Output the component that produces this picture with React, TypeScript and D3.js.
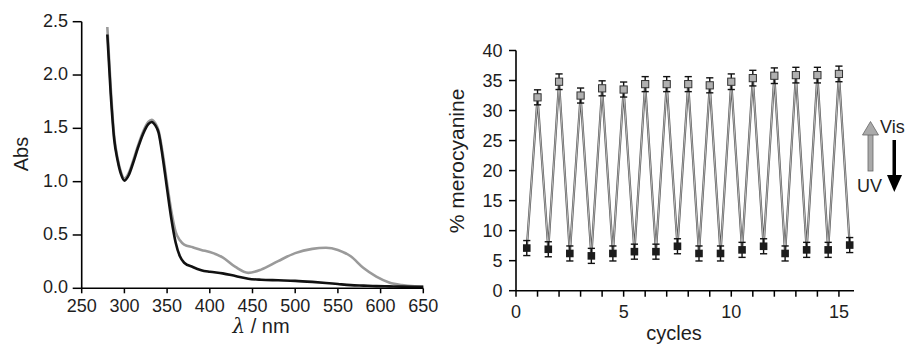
import React from 'react';
import * as d3 from 'd3';

// left panel: absorption spectra
const wavelength = [280, 284, 288, 292, 296, 300, 305, 310, 316, 322, 328, 332, 336, 340, 345, 350, 355, 360, 365, 370, 380, 390, 400, 415, 430, 445, 460, 480, 500, 520, 536, 550, 565, 580, 595, 610, 625, 640, 650];
const absBlack = [2.38, 1.82, 1.4, 1.2, 1.07, 1.01, 1.06, 1.17, 1.32, 1.45, 1.54, 1.56, 1.53, 1.46, 1.22, 0.93, 0.65, 0.43, 0.3, 0.24, 0.2, 0.17, 0.155, 0.14, 0.115, 0.09, 0.08, 0.075, 0.07, 0.06, 0.05, 0.04, 0.03, 0.025, 0.02, 0.018, 0.016, 0.015, 0.015];
const absGray = [2.45, 1.88, 1.43, 1.22, 1.09, 1.03, 1.08, 1.19, 1.34, 1.47, 1.56, 1.58, 1.55, 1.48, 1.26, 0.98, 0.72, 0.53, 0.45, 0.41, 0.385, 0.36, 0.34, 0.29, 0.2, 0.145, 0.175, 0.255, 0.33, 0.37, 0.38, 0.36, 0.3, 0.19, 0.11, 0.055, 0.03, 0.018, 0.015];
const absTicks = [0, 0.5, 1, 1.5, 2, 2.5];
const wlTicks = [250, 300, 350, 400, 450, 500, 550, 600, 650];

// right panel: switching cycles
const highCycles = [1, 2, 3, 4, 5, 6, 7, 8, 9, 10, 11, 12, 13, 14, 15];
const highValues = [32.2, 34.8, 32.5, 33.7, 33.5, 34.4, 34.4, 34.4, 34.2, 34.8, 35.4, 35.8, 35.9, 35.9, 36.1];
const highErr = [1.25, 1.3, 1.25, 1.25, 1.25, 1.25, 1.25, 1.25, 1.25, 1.3, 1.3, 1.3, 1.3, 1.3, 1.3];
const lowCycles = [0.5, 1.5, 2.5, 3.5, 4.5, 5.5, 6.5, 7.5, 8.5, 9.5, 10.5, 11.5, 12.5, 13.5, 14.5, 15.5];
const lowValues = [7.1, 6.9, 6.2, 5.8, 6.2, 6.5, 6.5, 7.4, 6.2, 6.2, 6.8, 7.4, 6.2, 6.8, 6.8, 7.6];
const lowErr = [1.25, 1.25, 1.25, 1.25, 1.25, 1.25, 1.25, 1.25, 1.25, 1.25, 1.25, 1.25, 1.25, 1.25, 1.25, 1.25];
const mcTicks = [0, 5, 10, 15, 20, 25, 30, 35, 40];
const cycleTicks = d3.range(0, 16);
const cycleLabels = [0, 5, 10, 15];

const font = 'Liberation Sans, Arial, sans-serif';
const ink = '#1e1e1e';

export default function App() {
  const xL = d3.scaleLinear().domain([250, 650]).range([81.7, 423.3]);
  const yL = d3.scaleLinear().domain([0, 2.5]).range([288.3, 21.7]);
  const xR = d3.scaleLinear().domain([0, 15.7]).range([516, 854]);
  const yR = d3.scaleLinear().domain([0, 40]).range([290.7, 50.5]);

  const spec = (vals: number[]) =>
    d3.line<number>()
      .x((_, i) => xL(wavelength[i]))
      .y((d) => yL(d))
      .curve(d3.curveMonotoneX)(vals) || '';

  // zigzag: low, high, low, high ...
  const zig: [number, number][] = [];
  lowCycles.forEach((c, i) => {
    zig.push([c, lowValues[i]]);
    if (i < highCycles.length) zig.push([highCycles[i], highValues[i]]);
  });
  const zigPath = d3.line<[number, number]>()
    .x((d) => xR(d[0]))
    .y((d) => yR(d[1]))(zig) || '';

  const errBar = (cx: number, v: number, e: number, k: string) => {
    const x = xR(cx);
    return (
      <g key={k} stroke="#111" strokeWidth={1.4}>
        <line x1={x} x2={x} y1={yR(v - e)} y2={yR(v + e)} />
        <line x1={x - 3.6} x2={x + 3.6} y1={yR(v - e)} y2={yR(v - e)} />
        <line x1={x - 3.6} x2={x + 3.6} y1={yR(v + e)} y2={yR(v + e)} />
      </g>
    );
  };

  return (
    <svg width={912} height={349} style={{ position: 'absolute', left: 0, top: 0, background: '#fff' }}
      fontFamily={font}>
      {/* left panel */}
      <path d={spec(absGray)} fill="none" stroke="#9a9a9a" strokeWidth={2.6} />
      <path d={spec(absBlack)} fill="none" stroke="#111" strokeWidth={2.6} />
      <line x1={xL(250)} x2={xL(250)} y1={yL(2.5)} y2={yL(0)} stroke="#000" strokeWidth={1.6} />
      <line x1={xL(250)} x2={xL(650)} y1={yL(0)} y2={yL(0)} stroke="#000" strokeWidth={1.6} />
      {absTicks.map((t) => (
        <g key={'ay' + t}>
          <line x1={xL(250) - 9} x2={xL(250)} y1={yL(t)} y2={yL(t)} stroke="#000" strokeWidth={1.5} />
          <text x={68} y={yL(t) - 1.5} dy="0.36em" textAnchor="end" fontSize={18} fill={ink}>{d3.format('.1f')(t)}</text>
        </g>
      ))}
      {wlTicks.map((t) => (
        <g key={'ax' + t}>
          <line x1={xL(t)} x2={xL(t)} y1={yL(0)} y2={yL(0) + 5} stroke="#000" strokeWidth={1.5} />
          <text x={xL(t)} y={312} textAnchor="middle" fontSize={18} fill={ink}>{t}</text>
        </g>
      ))}
      <text x={261} y={333} textAnchor="middle" fontSize={20} fill={ink}>
        <tspan fontStyle="italic" fontFamily="DejaVu Serif, serif">λ</tspan> / nm
      </text>
      <text transform="translate(28,154) rotate(-90)" textAnchor="middle" fontSize={20} fill={ink}>Abs</text>

      {/* right panel */}
      <path d={zigPath} fill="none" stroke="#555" strokeWidth={2.2} />
      <path d={zigPath} fill="none" stroke="#c4c4c4" strokeWidth={0.9} />
      {highCycles.map((c, i) => errBar(c, highValues[i], highErr[i], 'he' + i))}
      {lowCycles.map((c, i) => errBar(c, lowValues[i], lowErr[i], 'le' + i))}
      {highCycles.map((c, i) => (
        <rect key={'hs' + i} x={xR(c) - 3.6} y={yR(highValues[i]) - 3.6} width={7.2} height={7.2}
          fill="#b0b0b0" stroke="#333" strokeWidth={1} />
      ))}
      {lowCycles.map((c, i) => (
        <rect key={'ls' + i} x={xR(c) - 3.8} y={yR(lowValues[i]) - 3.8} width={7.6} height={7.6} fill="#1c1c1c" />
      ))}
      <line x1={xR(0)} x2={xR(0)} y1={yR(40)} y2={yR(0)} stroke="#000" strokeWidth={1.6} />
      <line x1={xR(0)} x2={xR(15.7)} y1={yR(0)} y2={yR(0)} stroke="#000" strokeWidth={1.6} />
      {mcTicks.map((t) => (
        <g key={'ry' + t}>
          <line x1={xR(0) - 7} x2={xR(0)} y1={yR(t)} y2={yR(t)} stroke="#000" strokeWidth={1.5} />
          <text x={502.5} y={yR(t)} dy="0.36em" textAnchor="end" fontSize={18} fill={ink}>{t}</text>
        </g>
      ))}
      {cycleTicks.map((t) => (
        <line key={'rx' + t} x1={xR(t)} x2={xR(t)} y1={yR(0)} y2={yR(0) + 6} stroke="#000" strokeWidth={1.5} />
      ))}
      {cycleLabels.map((t) => (
        <text key={'rl' + t} x={xR(t)} y={318} textAnchor="middle" fontSize={18} fill={ink}>{t}</text>
      ))}
      <text x={674} y={340} textAnchor="middle" fontSize={20} fill={ink}>cycles</text>
      <text transform="translate(464,161) rotate(-90)" textAnchor="middle" fontSize={21} fill={ink}>% merocyanine</text>

      {/* Vis / UV arrows */}
      <rect x={868} y={133} width={5} height={38} fill="#aaa" stroke="#666" strokeWidth={0.8} />
      <path d="M862.5,135 L870.5,121.5 L878.5,135 Z" fill="#aaa" stroke="#666" strokeWidth={0.8} />
      <text x={880} y={133} fontSize={18} fill={ink}>Vis</text>
      <rect x={892.5} y={140} width={3.5} height={37} fill="#000" />
      <path d="M887,175 L894.3,192 L902,175 Z" fill="#000" />
      <text x={857} y={192} fontSize={18} fill={ink}>UV</text>
    </svg>
  );
}
